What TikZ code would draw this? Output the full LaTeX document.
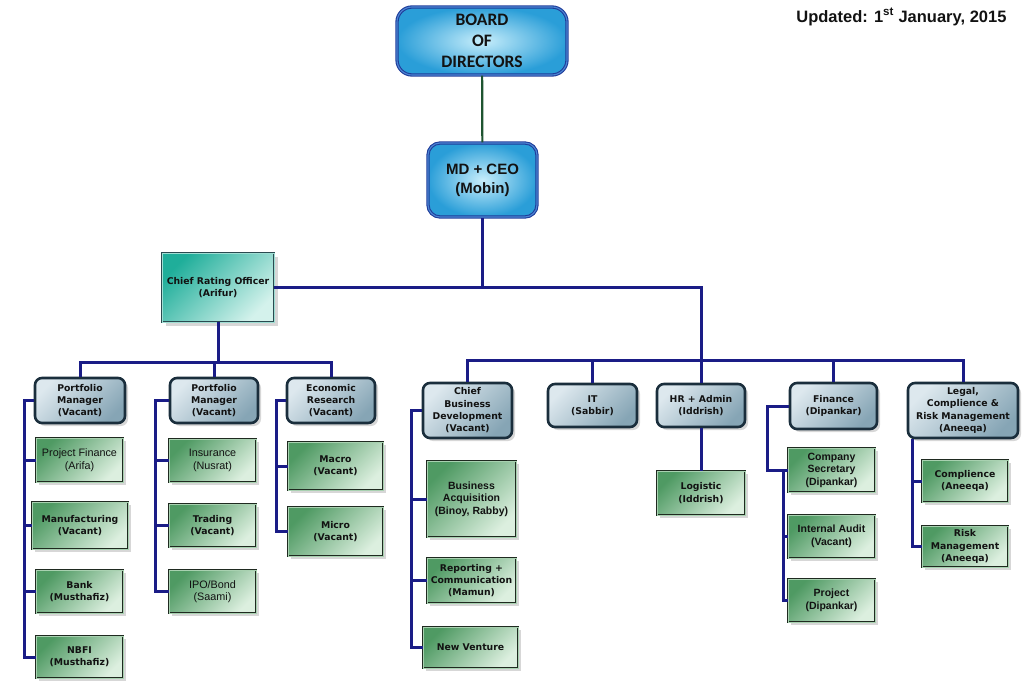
\documentclass[tikz,border=0pt]{standalone}
\usepackage{fontspec}
\usetikzlibrary{shadows}
\newfontfamily\vfont{DejaVu Sans}
\newfontfamily\afont{Liberation Sans}
\newfontfamily\cfont{Carlito}
\definecolor{navyline}{HTML}{1A1C86}
\definecolor{boardline}{HTML}{1E5430}
\definecolor{txt}{HTML}{121212}
\definecolor{gdark}{HTML}{4F9A63}
\definecolor{glite}{HTML}{DCEFDF}
\definecolor{gborder}{HTML}{1F2A20}
\definecolor{gmid}{HTML}{A8D1B0}
\definecolor{sdark}{HTML}{DDE8EE}
\definecolor{slite}{HTML}{86A5B5}
\definecolor{sborder}{HTML}{1A2E3C}
\definecolor{tdark}{HTML}{1FAE9A}
\definecolor{tlite}{HTML}{D4F2EC}
\definecolor{tborder}{HTML}{2A4A50}
\definecolor{bin}{HTML}{C8EEFB}
\definecolor{bout}{HTML}{2A9ED8}
\definecolor{bborder}{HTML}{1F3C9A}
\definecolor{bmid}{HTML}{4C86D4}
\begin{document}
\begin{tikzpicture}[x=1pt,y=-1pt,
  conn/.style={draw=navyline, line width=3pt},
  wh/.style 2 args={minimum width=#1pt, minimum height=#2pt},
  vtext/.style={font=\vfont\bfseries\fontsize{9.3}{12.3}\selectfont},
  atext/.style={font=\afont\bfseries\fontsize{10.5}{12.5}\selectfont},
  rtext/.style={font=\afont\fontsize{10.8}{12.5}\selectfont},
  base/.style={align=center, inner sep=0pt, text=txt},
  gbox/.style={base, draw=gborder, double=gmid, line width=0.9pt, double distance=0.9pt,
    top color=gdark, bottom color=glite, shading angle=45,
    drop shadow={shadow xshift=3pt, shadow yshift=-3pt, fill=black!35, opacity=0.45}},
  sbox/.style={base, vtext, rounded corners=7pt, draw=sborder, line width=2.6pt,
    top color=sdark, bottom color=slite, shading angle=45,
    drop shadow={shadow xshift=3pt, shadow yshift=-3pt, fill=black!35, opacity=0.45}},
  tbox/.style={base, vtext, draw=tborder, double=tlite!70!tdark, line width=0.9pt, double distance=0.9pt,
    top color=tdark, bottom color=tlite, shading angle=45,
    drop shadow={shadow xshift=4pt, shadow yshift=-4pt, fill=black!35, opacity=0.45}},
  bbox/.style={base, font=\cfont\bfseries\fontsize{17.5}{21}\selectfont, draw=bborder, double=bmid,
    line width=1.1pt, double distance=1.1pt, inner color=bin, outer color=bout}
]
\useasboundingbox (0,0) rectangle (1024,684);

% top
\node[bbox, rounded corners=15pt, wh={170}{68}] (board) at (482,41) {BOARD\\OF\\DIRECTORS};
\node[bbox, rounded corners=12pt, wh={109}{74}, font=\afont\bfseries\fontsize{15}{19}\selectfont] (ceo) at (482.5,180) {MD + CEO\\(Mobin)};
\node[font=\afont\bfseries\fontsize{16.5}{18}\selectfont, text=txt, anchor=east] (upd) at (1010,17) {Updated: 1\textsuperscript{st} January, 2015};

\node[tbox, wh={112}{69}] (cro) at (218,287.5) {Chief Rating Officer\\(Arifur)};

% second level left
\node[sbox, wh={90}{45}] (pm1) at (80,400.5) {Portfolio\\Manager\\(Vacant)};
\node[sbox, wh={88}{45}] (pm2) at (214,400.5) {Portfolio\\Manager\\(Vacant)};
\node[sbox, wh={88}{45}] (er) at (331,400.5) {Economic\\Research\\(Vacant)};

\node[gbox, rtext, wh={87}{44}] (pf) at (79.5,460) {Project Finance\\(Arifa)};
\node[gbox, vtext, wh={96}{47}] (man) at (80,525.5) {Manufacturing\\(Vacant)};
\node[gbox, vtext, wh={87}{43}] (bank) at (79.5,591.5) {Bank\\(Musthafiz)};
\node[gbox, vtext, wh={87}{42}] (nbfi) at (79.5,657) {NBFI\\(Musthafiz)};

\node[gbox, rtext, wh={87}{43}] (ins) at (212.5,460.5) {Insurance\\(Nusrat)};
\node[gbox, vtext, wh={87}{43}] (trd) at (212.5,525.5) {Trading\\(Vacant)};
\node[gbox, rtext, wh={87}{43}] (ipo) at (212.5,591.5) {IPO/Bond\\(Saami)};

\node[gbox, vtext, wh={95}{48}] (mac) at (335.5,466) {Macro\\(Vacant)};
\node[gbox, vtext, wh={95}{49}] (mic) at (335.5,531.5) {Micro\\(Vacant)};

% second level right
\node[sbox, wh={89}{55}] (cbd) at (467.5,410.5) {Chief\\Business\\Development\\(Vacant)};
\node[sbox, wh={89}{43}] (it) at (592.5,405.5) {IT\\(Sabbir)};
\node[sbox, wh={88}{43}] (hr) at (701,405.5) {HR + Admin\\(Iddrish)};
\node[sbox, wh={87}{46}] (fin) at (833.5,406) {Finance\\(Dipankar)};
\node[sbox, wh={110}{55}] (leg) at (963,410.5) {Legal,\\Complience \&\\Risk Management\\(Aneeqa)};

\node[gbox, atext, wh={89}{76}] (ba) at (471.5,499) {Business\\Acquisition\\(Binoy, Rabby)};
\node[gbox, vtext, wh={89}{45}] (rep) at (471.5,580.5) {Reporting +\\Communication\\(Mamun)};
\node[gbox, vtext, wh={95}{41}] (nv) at (470.5,647.5) {New Venture};

\node[gbox, vtext, wh={88}{44}] (log) at (701,493) {Logistic\\(Iddrish)};

\node[gbox, atext, wh={87}{44}] (cs) at (831.5,470) {Company\\Secretary\\(Dipankar)};
\node[gbox, atext, wh={87}{43}] (ia) at (831.5,536.5) {Internal Audit\\(Vacant)};
\node[gbox, atext, wh={87}{43}] (prj) at (831.5,600.5) {Project\\(Dipankar)};

\node[gbox, vtext, wh={86}{42}] (cmp) at (965,481) {Complience\\(Aneeqa)};
\node[gbox, vtext, wh={86}{41}] (risk) at (965,546.5) {Risk\\Management\\(Aneeqa)};

% coordinates
\coordinate (lb) at (218,362);
\coordinate (rb) at (701,360);
\coordinate (s1) at (24,0);
\coordinate (s2) at (155,0);
\coordinate (s3) at (276,0);
\coordinate (s4) at (411,0);
\coordinate (s5) at (767,0);
\coordinate (s6) at (783,0);
\coordinate (s7) at (912,0);

% connectors
\draw[draw=boardline, line width=2.2pt] (board) -- (ceo);
\draw[conn] (ceo.south) -- (ceo.south |- cro.east);
\draw[conn] (cro.east) -| (hr.north);
\draw[conn] (cro.south) -- (cro.south |- lb);
\draw[conn] (pm1.north) |- (lb) -| (er.north);
\draw[conn] (pm2.north) -- (pm2.north |- lb);
\draw[conn] (cbd.north) |- (rb) -| (leg.north);
\draw[conn] (it.north) -- (it.north |- rb);
\draw[conn] (fin.north) -- (fin.north |- rb);

\draw[conn] (pm1.west) -| (s1 |- nbfi.west) -- (nbfi.west);
\draw[conn] (s1 |- pf.west) -- (pf.west);
\draw[conn] (s1 |- man.west) -- (man.west);
\draw[conn] (s1 |- bank.west) -- (bank.west);

\draw[conn] (pm2.west) -| (s2 |- ipo.west) -- (ipo.west);
\draw[conn] (s2 |- ins.west) -- (ins.west);
\draw[conn] (s2 |- trd.west) -- (trd.west);

\draw[conn] (er.west) -| (s3 |- mic.west) -- (mic.west);
\draw[conn] (s3 |- mac.west) -- (mac.west);

\draw[conn] (cbd.west) -| (s4 |- nv.west) -- (nv.west);
\draw[conn] (s4 |- ba.west) -- (ba.west);
\draw[conn] (s4 |- rep.west) -- (rep.west);

\draw[conn] (hr.south) -- (log.north);

\draw[conn] (fin.west) -| (s5 |- cs.west) -- (cs.west);
\draw[conn] (s6 |- cs.west) |- (prj.west);
\draw[conn] (s6 |- ia.west) -- (ia.west);

\draw[conn] (s7 |- leg.south) |- (risk.west);
\draw[conn] (s7 |- cmp.west) -- (cmp.west);
\end{tikzpicture}
\end{document}
